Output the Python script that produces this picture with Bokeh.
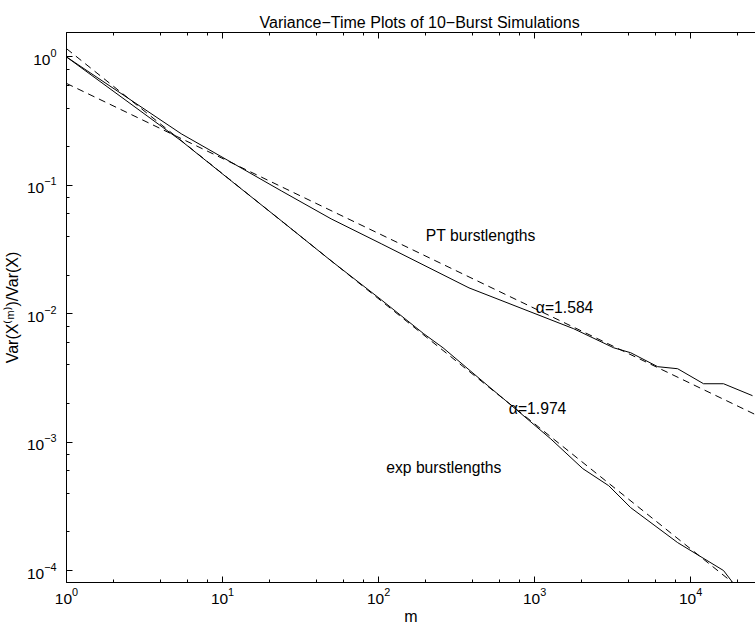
from bokeh.plotting import figure
from bokeh.models import LogAxis, LogTicker, Label, Range1d
from bokeh.embed import file_html
from bokeh.resources import INLINE

# ---- data ----
pt_m = [1, 5.44, 23.8, 49.7, 104, 380, 1783, 3214, 4130, 6150, 8260, 12110, 16260, 24940]
pt_var = [1.0, 0.252, 0.0906, 0.0548, 0.0351, 0.0159, 7.64e-3, 5.43e-3, 4.97e-3,
          3.87e-3, 3.73e-3, 2.85e-3, 2.85e-3, 2.30e-3]

exp_m = [1, 5.44, 11.4, 23.8, 49.7, 104, 195, 259, 502, 655, 1270, 2036, 2985,
         4130, 8260, 16260, 20000]
exp_var = [1.0, 0.222, 0.108, 0.0530, 0.0258, 0.01285, 6.98e-3, 5.43e-3, 2.75e-3,
           2.10e-3, 1.06e-3, 6.22e-4, 4.58e-4, 3.09e-4, 1.65e-4, 1.0e-4, 7.2e-5]

pt_fit_m = [1, 26000]
pt_fit_var = [0.622, 1.64e-3]
exp_fit_m = [1, 30000]
exp_fit_var = [1.16, 5.06e-5]

FONT = "Liberation Sans"

p = figure(width=755, height=627, x_axis_type="log", y_axis_type="log",
           x_range=Range1d(1, 26060), y_range=Range1d(8.07e-5, 1.55),
           output_backend="svg", toolbar_location=None,
           min_border_left=65, min_border_right=0, min_border_top=32,
           min_border_bottom=44)

p.xgrid.visible = False
p.ygrid.visible = False
p.outline_line_color = None
p.background_fill_color = "white"
p.border_fill_color = "white"

p.title.text = "Variance\u2212Time Plots of 10\u2212Burst Simulations"
p.title.text_font = FONT
p.title.text_font_size = "16px"
p.title.text_font_style = "normal"
p.title.text_color = "black"
p.title.align = "left"
p.title.offset = 193
p.title.standoff = 4

for ax in (p.xaxis[0], p.yaxis[0]):
    ax.major_tick_in = 6
    ax.major_tick_out = 0
    ax.minor_tick_in = 3
    ax.minor_tick_out = 0
    ax.axis_line_color = "black"
    ax.major_tick_line_color = "black"
    ax.minor_tick_line_color = "black"
    ax.major_label_text_font = FONT
    ax.major_label_text_font_size = "15.5px"
    ax.major_label_text_color = "black"
    ax.axis_label_text_font = FONT
    ax.axis_label_text_font_size = "16px"
    ax.axis_label_text_font_style = "normal"
    ax.axis_label_text_color = "black"

p.xaxis.ticker = LogTicker(desired_num_ticks=5)
p.yaxis.ticker = LogTicker(desired_num_ticks=5)
p.xaxis.axis_label = "m"
p.yaxis.axis_label = "Var(X\u207d\u1d50\u207e)/Var(X)"
p.xaxis.major_label_standoff = 5
p.yaxis.major_label_standoff = 10
p.xaxis.axis_label_standoff = 1
p.yaxis.axis_label_standoff = 3

top = LogAxis(ticker=LogTicker(), major_tick_in=6, major_tick_out=0,
              minor_tick_in=3, minor_tick_out=0, major_label_standoff=0,
              major_label_text_font_size="1px", major_label_text_color=None,
              axis_line_color="black")
p.add_layout(top, "above")

p.line(pt_m, pt_var, line_color="black", line_width=1)
p.line(exp_m, exp_var, line_color="black", line_width=1)
p.line(pt_fit_m, pt_fit_var, line_color="black", line_width=1, line_dash="7 5")
p.line(exp_fit_m, exp_fit_var, line_color="black", line_width=1, line_dash="7 5")

labels = [
    ("PT burstlengths", 201, 0.0406),
    ("\u03b1=1.584", 1019, 0.01127),
    ("\u03b1=1.974", 684, 1.82e-3),
    ("exp burstlengths", 112, 6.31e-4),
]
for txt, lx, ly in labels:
    p.add_layout(Label(x=lx, y=ly, text=txt, text_font=FONT,
                       text_font_size="15.7px", text_baseline="middle",
                       text_align="left", text_color="black"))

open("out.html", "w").write(file_html(p, INLINE))
